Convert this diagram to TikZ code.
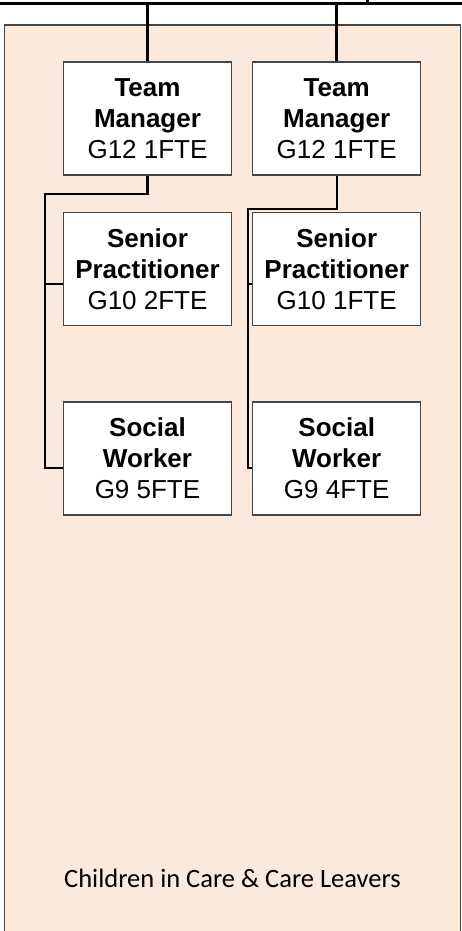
\documentclass[tikz,border=0pt]{standalone}
\usepackage{fontspec}
\setmainfont{Liberation Sans}
\newfontfamily\calib{Carlito}
\definecolor{peach}{HTML}{FBE9DC}
\definecolor{boxline}{HTML}{454545}
\begin{document}
\begin{tikzpicture}[x=1pt,y=-1pt,
  post/.style={draw=boxline,line width=1.1pt,fill=white,minimum width=168pt,minimum height=113pt,inner sep=0pt,align=center,font=\fontsize{26}{31}\selectfont},
  conn/.style={draw=black,line width=2.6pt},
  conn2/.style={draw=black,line width=2.1pt}]
\useasboundingbox (0,0) rectangle (462,931);
\begin{scope}
\clip (0,0) rectangle (462,931);
\node[draw=boxline,line width=1.3pt,fill=peach,minimum width=456pt,minimum height=920pt,inner sep=0pt,anchor=north west] (outer) at (3.5,24.5) {};
\end{scope}
\coordinate (topL) at (0,3.5);
\coordinate (topR) at (462,3.5);
\coordinate (tick) at (367.3,0);
\draw[conn] (topL) -- (topR);
\draw[conn] (tick) -- (tick |- topL);
\node[post] (tm1) at (147.5,118.5) {\textbf{Team}\\\textbf{Manager}\\G12 1FTE};
\node[post] (tm2) at (336.7,118.5) {\textbf{Team}\\\textbf{Manager}\\G12 1FTE};
\node[post] (sp1) at (147.5,269) {\textbf{Senior}\\\textbf{Practitioner}\\G10 2FTE};
\node[post] (sp2) at (336.7,269) {\textbf{Senior}\\\textbf{Practitioner}\\G10 1FTE};
\node[post] (sw1) at (147.5,458.5) {\textbf{Social}\\\textbf{Worker}\\G9 5FTE};
\node[post] (sw2) at (336.7,458.5) {\textbf{Social}\\\textbf{Worker}\\G9 4FTE};
\draw[conn] (tm1.north |- topL) -- (tm1.north);
\draw[conn] (tm2.north |- topL) -- (tm2.north);
\coordinate (l1) at (45,194);
\coordinate (l2) at (248,209);
\coordinate (s1) at ([yshift=-15pt]sp1.west);
\coordinate (s2) at ([yshift=-15pt]sp2.west);
\coordinate (w1) at ([yshift=-9.5pt]sw1.west);
\coordinate (w2) at ([yshift=-9.5pt]sw2.west);
\draw[conn2] (tm1.south) |- (l1) |- (w1);
\draw[conn2] (tm2.south) |- (l2) |- (w2);
\draw[conn2] (s1) -- (l1 |- s1);
\draw[conn2] (s2) -- (l2 |- s2);
\node[anchor=base,inner sep=0pt,font=\calib\fontsize{26.5}{30}\selectfont] (label) at (232.5,887) {Children in Care \& Care Leavers};
\end{tikzpicture}
\end{document}
